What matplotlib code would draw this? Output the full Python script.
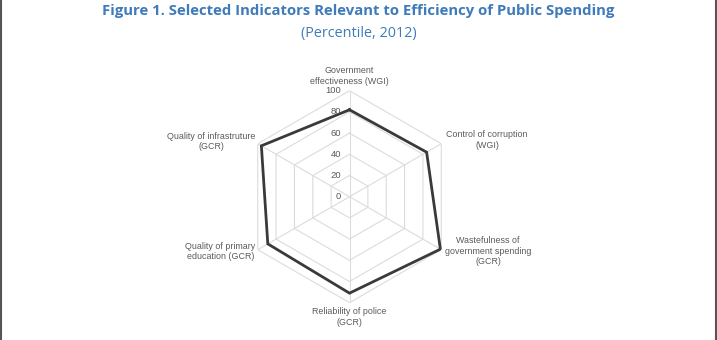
import numpy as np
import matplotlib
matplotlib.use("Agg")
import matplotlib.pyplot as plt

categories = [
    "Government\neffectiveness (WGI)",
    "Control of corruption\n(WGI)",
    "Wastefulness of\ngovernment spending\n(GCR)",
    "Reliability of police\n(GCR)",
    "Quality of primary\neducation (GCR)",
    "Quality of infrastruture\n(GCR)",
]
values = [82, 84, 99, 91, 89, 96]
rings = [20, 40, 60, 80, 100]
tick_labels = ["0", "20", "40", "60", "80", "100"]

title = "Figure 1. Selected Indicators Relevant to Efficiency of Public Spending"
subtitle = "(Percentile, 2012)"

W, H = 717, 340
fig = plt.figure(figsize=(W / 100, H / 100), dpi=100)
fig.patch.set_facecolor("white")

cx, cy, R = 349.5, 196.7, 106.0
ax = fig.add_axes([(cx - R) / W, (H - cy - R) / H, 2 * R / W, 2 * R / H],
                  projection="polar")
ax.set_theta_offset(np.pi / 2)
ax.set_theta_direction(-1)
ax.set_ylim(0, 100)
ax.grid(False)
ax.spines["polar"].set_visible(False)
ax.set_xticks([])
ax.set_yticks([])
ax.patch.set_alpha(0)

n = len(categories)
angles = np.arange(n) * 2 * np.pi / n
closed = np.append(angles, angles[0])

grid_color = "#dcdcdc"
for r in rings:
    ax.plot(closed, [r] * (n + 1), color=grid_color, lw=0.8, zorder=1)
for a in angles:
    ax.plot([a, a], [0, 100], color=grid_color, lw=0.8, zorder=1)

ax.plot(closed, values + [values[0]], color="#3a3a3a", lw=2.0, zorder=3,
        solid_joinstyle="miter")

text_color = "#5a5a5a"
lab_font = "Liberation Sans"
# radial tick labels along top spoke
for t, lab in zip([0] + rings, tick_labels):
    ax.annotate(lab, xy=(0, t), xytext=(-6, 0), textcoords="offset points",
                ha="right", va="center", fontsize=6.8, color=text_color,
                family=lab_font)

# category labels (figure pixel positions)
label_pos = [(349, 76), (487, 140), (488, 251), (349, 317), (220.5, 251.7), (211, 141.7)]
for lab, (x, y) in zip(categories, label_pos):
    fig.text(x / W, 1 - y / H, lab, ha="center", va="center", fontsize=6.4,
             color=text_color, family=lab_font, linespacing=1.15)

title_color = "#3F7BBA"
fig.text(0.5, 1 - 10.5 / H, title, ha="center", va="center", fontsize=10.7,
         fontweight="bold", color=title_color, family="Open Sans")
fig.text(0.5, 1 - 33 / H, subtitle, ha="center", va="center", fontsize=10.4,
         color=title_color, family="Open Sans")

# side border lines
for xpix in (1.5, 715.5):
    fig.add_artist(plt.Line2D([xpix / W, xpix / W], [0, 1], color="#555555", lw=1.5,
                              transform=fig.transFigure))

fig.savefig("out.png", dpi=100)
